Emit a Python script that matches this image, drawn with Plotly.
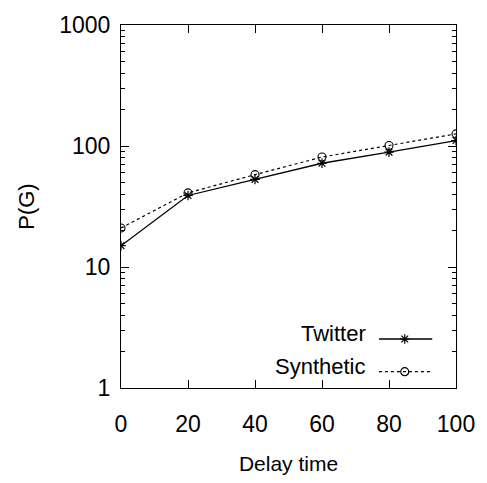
import plotly.graph_objects as go

# Delay time vs P(G)
delay = [0, 20, 40, 60, 80, 100]
twitter = [15, 39, 53, 72, 89, 111]
synthetic = [21, 41, 58, 81, 101, 126]
series_names = ["Twitter", "Synthetic"]
y_tick_vals = [1, 10, 100, 1000]
x_tick_vals = [0, 20, 40, 60, 80, 100]

# minor ticks at 2..9 within each decade
y_minor_vals = [m * 10 ** k for k in range(3) for m in range(2, 10)]

FONT = "Liberation Sans, Arial, sans-serif"

fig = go.Figure()

fig.add_trace(go.Scatter(
    x=delay, y=twitter, mode="lines+markers", name=series_names[0],
    line=dict(color="black", width=1.3),
    marker=dict(symbol="asterisk-open", size=8, color="black",
                line=dict(color="black", width=1.2)),
    showlegend=False,
))
fig.add_trace(go.Scatter(
    x=delay, y=synthetic, mode="lines+markers", name=series_names[1],
    line=dict(color="black", width=1.2, dash="dot"),
    marker=dict(symbol="circle-open", size=8, color="black",
                line=dict(color="black", width=1.1)),
    showlegend=False,
))

# Legend keys drawn on an overlay axis spanning the plot area
legend_rows = [
    (0.135, "solid", "asterisk-open"),
    (0.045, "dot", "circle-open"),
]
x0, x1, xm = 0.770, 0.929, 0.847
for (yy, dash, sym), name in zip(legend_rows, series_names):
    fig.add_trace(go.Scatter(
        x=[x0, xm, x1], y=[yy, yy, yy], mode="lines", xaxis="x2", yaxis="y2",
        line=dict(color="black", width=1.3 if dash == "solid" else 1.2, dash=dash),
        showlegend=False, hoverinfo="skip",
    ))
    fig.add_trace(go.Scatter(
        x=[xm], y=[yy], mode="markers", xaxis="x2", yaxis="y2",
        marker=dict(symbol=sym, size=8, color="black",
                    line=dict(color="black", width=1.2)),
        showlegend=False, hoverinfo="skip",
    ))
    fig.add_annotation(
        x=0.738, y=yy + 0.014, xref="x2", yref="y2", text=name,
        showarrow=False, xanchor="right", yanchor="middle",
        font=dict(family=FONT, size=22, color="black"),
    )

axis_common = dict(
    showgrid=False, zeroline=False, showline=True, linecolor="black",
    linewidth=1.2, mirror="ticks", ticks="inside", ticklen=8,
    tickcolor="black", tickwidth=1.2,
    tickfont=dict(family=FONT, size=23, color="black"),
)

fig.update_layout(
    width=487, height=483,
    margin=dict(l=121, r=27, t=22, b=95),
    paper_bgcolor="white", plot_bgcolor="white",
    xaxis=dict(
        range=[0, 100], tickvals=x_tick_vals, ticktext=[str(v) for v in x_tick_vals],
        ticklabelstandoff=15,
        title=dict(text="Delay time", font=dict(family=FONT, size=21, color="black"),
                   standoff=20),
        **axis_common,
    ),
    yaxis=dict(
        type="log", range=[0, 3], tickvals=y_tick_vals,
        ticktext=[str(v) for v in y_tick_vals],
        ticklabelstandoff=5,
        minor=dict(tickvals=y_minor_vals, ticks="inside", ticklen=4,
                   tickcolor="black", tickwidth=1, showgrid=False),
        title=dict(text="P(G)", font=dict(family=FONT, size=22, color="black"),
                   standoff=18),
        **axis_common,
    ),
    xaxis2=dict(overlaying="x", range=[0, 1], visible=False, fixedrange=True),
    yaxis2=dict(overlaying="y", range=[0, 1], visible=False, fixedrange=True),
)

fig.write_html("out.html")
